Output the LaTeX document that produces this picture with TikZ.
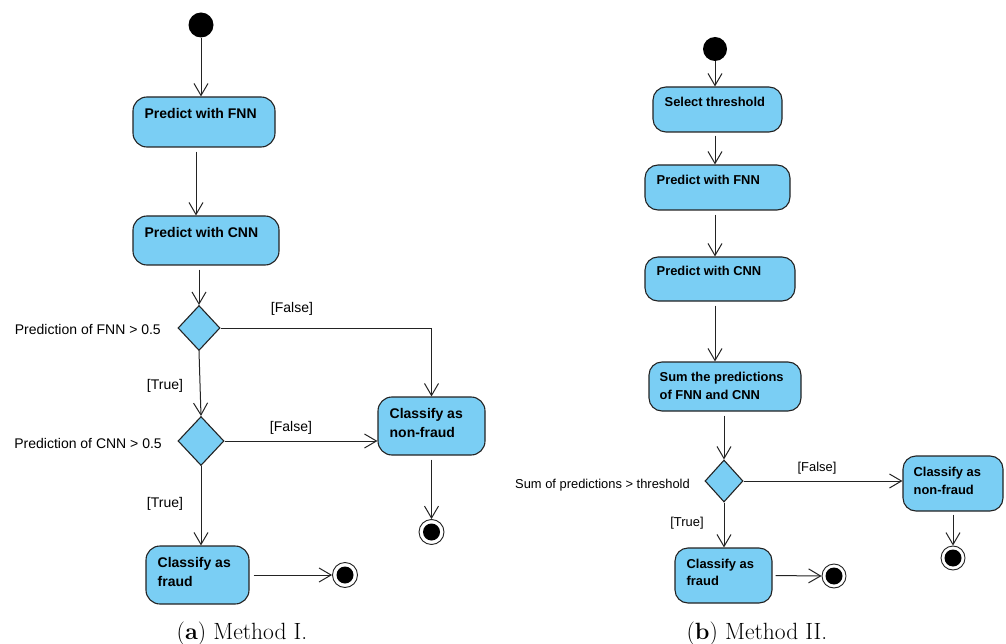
\documentclass[tikz,border=0pt]{standalone}
\usepackage{fontspec}
\newfontfamily\diafont{Liberation Sans}
\usetikzlibrary{arrows.meta,shapes.geometric}
\definecolor{actfill}{RGB}{122,206,244}
\definecolor{edgecol}{RGB}{35,35,35}
% font shortcuts for the two diagrams
\newcommand\actLeft{\diafont\bfseries\fontsize{14}{19}\selectfont}
\newcommand\lblLeft{\diafont\fontsize{14}{17}\selectfont}
\newcommand\actRight{\diafont\bfseries\fontsize{12.9}{17.5}\selectfont}
\newcommand\lblRight{\diafont\fontsize{12.9}{16}\selectfont}
\begin{document}
\begin{tikzpicture}[x=1pt,y=-1pt,
  act/.style={draw=edgecol, line width=1.1pt, fill=actfill, rounded corners=14pt, inner sep=0pt},
  acttext/.style={anchor=north west, inner sep=0pt, align=left, text=black},
  decision/.style={diamond, draw=edgecol, line width=1.1pt, fill=actfill, inner sep=0pt},
  initnode/.style={circle, fill=black, inner sep=0pt},
  finalnode/.style={circle, draw=edgecol, line width=0.9pt, fill=white, inner sep=0pt,
    path picture={\fill[black] (path picture bounding box.center) circle (8.5pt);}},
  flow/.style={draw=edgecol, line width=1pt, -{Straight Barb[length=12pt,width=14pt]}},
  guard/.style={inner sep=0pt, text=black},
  caption/.style={inner sep=0pt, anchor=base, font=\fontsize{23.5}{27}\selectfont}
]
\useasboundingbox (0,0) rectangle (1006,644);

% ---------------- Method I ----------------
\node[initnode, minimum size=25pt] (s1) at (201,25) {};
\node[act, minimum width=142pt, minimum height=50pt] (f1) at (204,122) {};
\node[acttext, font=\actLeft] (f1t) at ([shift={(12pt,-12pt)}]f1.north west) {Predict with FNN};
\node[act, minimum width=146pt, minimum height=49pt] (c1) at (206,240.5) {};
\node[acttext, font=\actLeft] (c1t) at ([shift={(12pt,-12pt)}]c1.north west) {Predict with CNN};
\node[decision, minimum width=42pt, minimum height=45pt] (d1) at (199,328) {};
\node[decision, minimum width=46pt, minimum height=49pt] (d2) at (201,441) {};
\node[act, minimum width=107pt, minimum height=58pt] (nf1) at (431.5,426) {};
\node[acttext, font=\actLeft] (nf1t) at ([shift={(12pt,-12pt)}]nf1.north west) {Classify as\\non-fraud};
\node[act, minimum width=103pt, minimum height=58pt] (fr1) at (197.5,575) {};
\node[acttext, font=\actLeft] (fr1t) at ([shift={(12pt,-12pt)}]fr1.north west) {Classify as\\fraud};
\node[finalnode, minimum size=25pt] (e1) at (431.5,532) {};
\node[finalnode, minimum size=25pt] (e2) at (345,575) {};

\node[guard, anchor=east, font=\lblLeft] (q1) at (161,329) {Prediction of FNN > 0.5};
\node[guard, anchor=east, font=\lblLeft] (q2) at (162,443) {Prediction of CNN > 0.5};
\node[guard, font=\lblLeft] (g1) at (292,309) {[False]};
\node[guard, font=\lblLeft] (g2) at (165,386) {[True]};
\node[guard, font=\lblLeft] (g3) at (291,428) {[False]};
\node[guard, font=\lblLeft] (g4) at (165,504) {[True]};

\draw[flow] (s1) -- (s1 |- f1.north);
\draw[flow, shorten <=4pt] ([xshift=-8pt]f1.south) -- ([xshift=-8pt]f1.south |- c1.north);
\draw[flow, shorten <=4pt] (c1.south -| d1.north) -- (d1.north);
\draw[flow] (d1.east) -| (nf1.north);
\draw[flow] (d1.south) -- (d2.north);
\draw[flow] (d2.east) -- (d2.east -| nf1.west);
\draw[flow, shorten <=4pt] (nf1.south) -- (e1.north);
\draw[flow] (d2.south) -- (d2.south |- fr1.north);
\draw[flow, shorten <=4pt] (fr1.east) -- (e2.west);

\node[caption] (capa) at (242,639) {(\textbf{a}) Method I.};

% ---------------- Method II ----------------
\node[initnode, minimum size=24pt] (s3) at (715,49) {};
\node[act, rounded corners=13pt, minimum width=129pt, minimum height=45pt] (st) at (717.5,109.5) {};
\node[acttext, font=\actRight] (stt) at ([shift={(12pt,-11pt)}]st.north west) {Select threshold};
\node[act, rounded corners=13pt, minimum width=145pt, minimum height=45pt] (f2) at (717.5,187.5) {};
\node[acttext, font=\actRight] (f2t) at ([shift={(12pt,-11pt)}]f2.north west) {Predict with FNN};
\node[act, rounded corners=13pt, minimum width=150pt, minimum height=44pt] (c2) at (720,279) {};
\node[acttext, font=\actRight] (c2t) at ([shift={(12pt,-10pt)}]c2.north west) {Predict with CNN};
\node[act, rounded corners=13pt, minimum width=152pt, minimum height=49pt] (sm) at (725,386.5) {};
\node[acttext, font=\actRight] (smt) at ([shift={(11pt,-11pt)}]sm.north west) {Sum the predictions\\of FNN and CNN};
\node[decision, minimum width=38pt, minimum height=42pt] (d3) at (724,481) {};
\node[act, rounded corners=13pt, minimum width=100pt, minimum height=55pt] (nf2) at (953,483.5) {};
\node[acttext, font=\actRight] (nf2t) at ([shift={(11pt,-12pt)}]nf2.north west) {Classify as\\non-fraud};
\node[act, rounded corners=13pt, minimum width=97pt, minimum height=55pt] (fr2) at (723.5,575.5) {};
\node[acttext, font=\actRight] (fr2t) at ([shift={(12pt,-11pt)}]fr2.north west) {Classify as\\fraud};
\node[finalnode, minimum size=24pt] (e3) at (953,558) {};
\node[finalnode, minimum size=24pt] (e4) at (834,576) {};

\node[guard, anchor=base east, font=\lblRight] (q3) at (690,488) {Sum of predictions > threshold};
\node[guard, font=\lblRight] (g5) at (817,468) {[False]};
\node[guard, font=\lblRight] (g6) at (687,523) {[True]};

\draw[flow] (s3) -- (s3 |- st.north);
\draw[flow, shorten <=3pt] (s3 |- st.south) -- (s3 |- f2.north);
\draw[flow, shorten <=4pt] (s3 |- f2.south) -- (s3 |- c2.north);
\draw[flow, shorten <=4pt] (s3 |- c2.south) -- (s3 |- sm.north);
\draw[flow, shorten <=4pt] (sm.south -| d3.north) -- (d3.north);
\draw[flow] (d3.east) -- (d3.east -| nf2.west);
\draw[flow, shorten <=3pt] (nf2.south) -- (e3.north);
\draw[flow] (d3.south) -- (d3.south |- fr2.north);
\draw[flow, shorten <=3pt] (fr2.east) -- (e4.west);

\node[caption] (capb) at (757,639) {(\textbf{b}) Method II.};
\end{tikzpicture}
\end{document}
